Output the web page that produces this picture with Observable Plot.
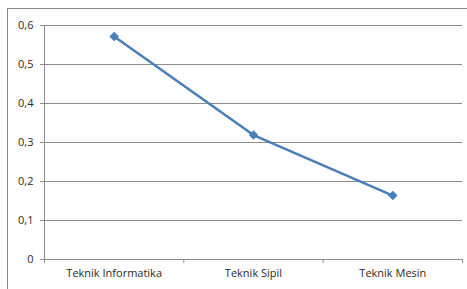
<!DOCTYPE html>
<html>
<head>
<meta charset="utf-8">
<script src="https://cdn.jsdelivr.net/npm/d3@7"></script>
<script src="https://cdn.jsdelivr.net/npm/@observablehq/plot@0.6"></script>
<style>
  html, body { margin: 0; padding: 0; background: #fff; overflow: hidden; }
  #wrap { position: relative; width: 467px; height: 289px; }
  #chart { position: absolute; left: 0; top: 0; }
  #frame { position: absolute; left: 7px; top: 8px; width: 480px; height: 300px; border: 1px solid #8a8a8a; box-sizing: border-box; pointer-events: none; z-index: 2; }
</style>
</head>
<body>
<div id="wrap"><div id="chart"></div><div id="frame"></div></div>
<script>
const categories = ["Teknik Informatika", "Teknik Sipil", "Teknik Mesin"];
const values = [0.572, 0.319, 0.164];
const yTicks = [0, 0.1, 0.2, 0.3, 0.4, 0.5, 0.6];

const data = categories.map((c, i) => ({cat: c, idx: i + 0.5, value: values[i]}));
const boundaries = d3.range(categories.length + 1);
const fmt = d => d === 0 ? "0" : d.toFixed(1).replace(".", ",");
const font = "'Open Sans', 'Liberation Sans', Arial, sans-serif";

const chart = Plot.plot({
  width: 467,
  height: 289,
  marginLeft: 44,
  marginRight: 5,
  marginTop: 25,
  marginBottom: 30,
  style: {fontFamily: font, fontSize: "11px", color: "#2a2a2a", background: "transparent", overflow: "visible"},
  x: {type: "linear", domain: [0, categories.length], axis: null, label: null},
  y: {domain: [0, 0.6], axis: null, label: null},
  marks: [
    Plot.gridY(yTicks.filter(d => d > 0), {stroke: "#8c8c8c", strokeOpacity: 1, strokeWidth: 1}),
    Plot.axisY(yTicks, {tickSize: 4, tickPadding: 7, tickFormat: fmt, stroke: "#8c8c8c", fill: "#2a2a2a", fontSize: 11, label: null}),
    Plot.ruleX([0], {stroke: "#8c8c8c"}),
    Plot.ruleY([0], {stroke: "#8c8c8c"}),
    Plot.axisX(boundaries, {tickSize: 4, tickFormat: () => "", stroke: "#8c8c8c", label: null}),
    Plot.axisX(data.map(d => d.idx), {tickSize: 0, tickPadding: 10, tickFormat: (d, i) => categories[i], fill: "#2a2a2a", fontSize: 11, label: null}),
    Plot.line(data, {x: "idx", y: "value", stroke: "#4a7ebb", strokeWidth: 2.5}),
    Plot.dot(data, {x: "idx", y: "value", symbol: "square", rotate: 45, r: 3.8, fill: "#4a7ebb", stroke: "none"})
  ]
});
document.getElementById("chart").appendChild(chart);
</script>
</body>
</html>
